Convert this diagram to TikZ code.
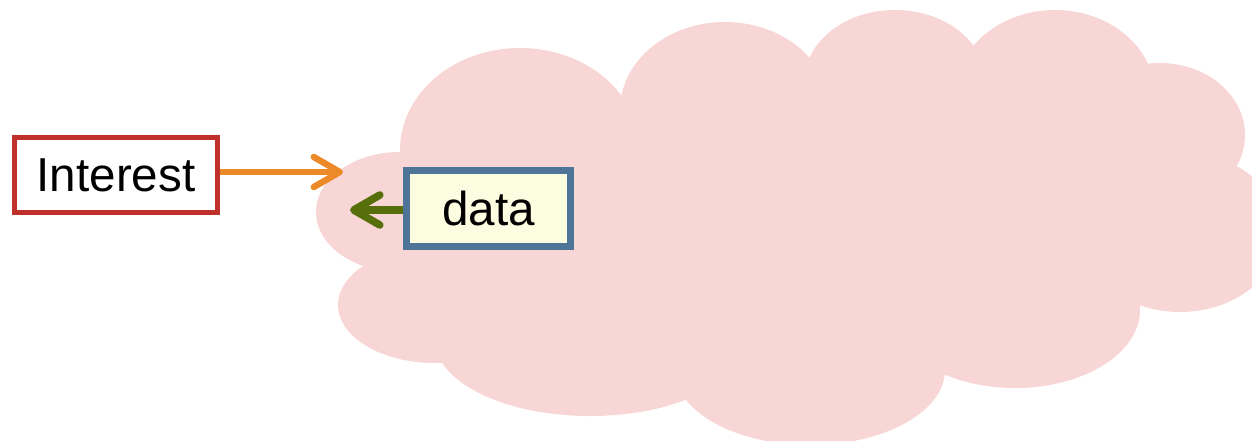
\documentclass[tikz,border=0pt]{standalone}
\usepackage{fontspec}
\setmainfont{Liberation Sans}
\usetikzlibrary{arrows.meta}
\definecolor{cloudpink}{HTML}{F8D6D5}
\definecolor{boxred}{HTML}{C0302A}
\definecolor{arrorange}{HTML}{EC8A2A}
\definecolor{boxblue}{HTML}{4E7497}
\definecolor{paleyellow}{HTML}{FCFDE0}
\definecolor{arrgreen}{HTML}{566F0A}
\tikzset{
  lobe/.style={fill=cloudpink, draw=none},
  msgbox/.style={rectangle, inner sep=0pt, font=\fontsize{23.8}{28}\selectfont},
  barb/.style={line width=#1, -{Straight Barb[length=13pt,width=15pt,round]}},
}
\begin{document}
\begin{tikzpicture}[x=0.5pt,y=-0.5pt]
\useasboundingbox (0,0) rectangle (1252,440);

% the network cloud: overlapping lobes in one colour
\begin{scope}
  \clip (0,0) rectangle (1252,440);
  \fill[lobe] (450,120) rectangle (1120,340);
  \fill[lobe] (400,212) ellipse [x radius=84, y radius=60];
  \fill[lobe] (435,305) ellipse [x radius=97, y radius=58];
  \fill[lobe] (590,340) ellipse [x radius=155, y radius=76];
  \fill[lobe] (810,370) ellipse [x radius=135, y radius=75];
  \fill[lobe] (1015,310) ellipse [x radius=125, y radius=78];
  \fill[lobe] (1180,232) ellipse [x radius=100, y radius=80];
  \fill[lobe] (1160,135) ellipse [x radius=85, y radius=72];
  \fill[lobe] (1055,95) ellipse [x radius=100, y radius=85];
  \fill[lobe] (895,80) ellipse [x radius=90, y radius=70];
  \fill[lobe] (725,110) ellipse [x radius=105, y radius=88];
  \fill[lobe] (520,150) ellipse [x radius=120, y radius=102];
\end{scope}

% packets
\node[msgbox, draw=boxred, fill=white, line width=2.5pt,
      minimum width=101.5pt, minimum height=37.5pt] (interest) at (116,175) {Interest};
\node[msgbox, draw=boxblue, fill=paleyellow, line width=3.5pt,
      minimum width=82pt, minimum height=38pt] (data) at (488.5,208) {data};

\coordinate (interestTip) at (343,172);
\coordinate (dataTip) at (350,210);

\draw[barb=3.2pt, arrorange] (interestTip -| interest.east) -- (interestTip);
\draw[barb=3.8pt, arrgreen] (dataTip -| data.west) -- (dataTip);
\end{tikzpicture}
\end{document}
